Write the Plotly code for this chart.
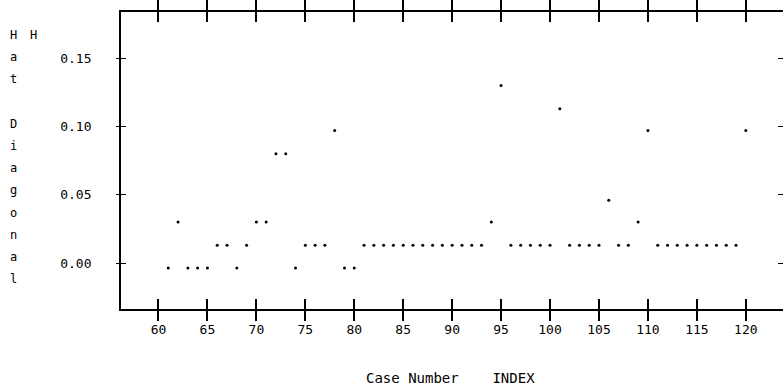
import plotly.graph_objects as go

# ---- data ----
case_number = list(range(61, 121))
hat_diagonal = [
    -0.0035, 0.030, -0.0035, -0.0035, -0.0035, 0.013, 0.013, -0.0035, 0.013, 0.030,  # 61-70
    0.030, 0.080, 0.080, -0.0035, 0.013, 0.013, 0.013, 0.097, -0.0035, -0.0035,       # 71-80
    0.013, 0.013, 0.013, 0.013, 0.013, 0.013, 0.013, 0.013, 0.013, 0.013,              # 81-90
    0.013, 0.013, 0.013, 0.030, 0.130, 0.013, 0.013, 0.013, 0.013, 0.013,              # 91-100
    0.113, 0.013, 0.013, 0.013, 0.013, 0.046, 0.013, 0.013, 0.030, 0.097,              # 101-110
    0.013, 0.013, 0.013, 0.013, 0.013, 0.013, 0.013, 0.013, 0.013, 0.097,              # 111-120
]
x_ticks = list(range(60, 121, 5))
y_ticks = [0.00, 0.05, 0.10, 0.15]
y_tick_labels = ["0.00", "0.05", "0.10", "0.15"]
y_title_chars = list("Hat Diagonal")
y_var_name = "H"
x_title = "Case Number    INDEX"

W, H = 783, 387
ML, MR, MT, MB = 121, 0, 12, 78
PW, PH = W - ML - MR, H - MT - MB

def px_to_paper(px, py):
    return (px - ML) / PW, (H - MB - py) / PH

FONT = "DejaVu Sans Mono"

fig = go.Figure()
fig.add_trace(go.Scatter(
    x=case_number, y=hat_diagonal, mode="markers",
    marker=dict(color="black", size=3, symbol="circle"),
    showlegend=False, hoverinfo="x+y",
))
# invisible trace to activate overlay axes
fig.add_trace(go.Scatter(x=[case_number[0]], y=[hat_diagonal[0]], xaxis="x2", yaxis="y2",
                         mode="markers", marker=dict(opacity=0), showlegend=False, hoverinfo="skip"))

xr = [56.17, 123.8]
yr = [-0.0336, 0.1838]

fig.update_layout(
    width=W, height=H,
    margin=dict(l=ML, r=MR, t=MT, b=MB, pad=0),
    paper_bgcolor="white", plot_bgcolor="white",
    font=dict(family=FONT, size=13, color="black"),
    xaxis=dict(range=xr, tickvals=x_ticks, ticks="outside", ticklen=10, tickwidth=1.5,
               tickcolor="black", showline=True, linewidth=1.8, linecolor="black",
               mirror="ticks", showgrid=False, zeroline=False,
               tickfont=dict(family=FONT, size=13), ticklabelstandoff=-3),
    xaxis2=dict(range=xr, overlaying="x", anchor="y", side="bottom", ticks="inside", ticklen=10,
                tickwidth=1.5, tickcolor="black", tickvals=x_ticks, showticklabels=False,
                showline=False, mirror="ticks", showgrid=False, zeroline=False),
    yaxis=dict(range=yr, tickvals=y_ticks, ticktext=y_tick_labels, ticks="outside", ticklen=3,
               tickwidth=1.2, tickcolor="black", showline=True, linewidth=1.8, linecolor="black",
               mirror=False, showgrid=False, zeroline=False,
               tickfont=dict(family=FONT, size=13), ticklabelstandoff=22),
    yaxis2=dict(range=yr, overlaying="y", anchor="x", side="left", ticks="inside", ticklen=5,
                tickwidth=1.2, tickcolor="black", tickvals=y_ticks, showticklabels=False,
                showline=False, mirror="ticks", showgrid=False, zeroline=False),
)

annotations = []
# vertical stacked y title
for i, ch in enumerate(y_title_chars):
    if ch == " ":
        continue
    ax, ay = px_to_paper(13, 35 + i * 22.2)
    annotations.append(dict(text=ch, x=ax, y=ay, xref="paper", yref="paper",
                            showarrow=False, xanchor="center", yanchor="middle",
                            font=dict(family=FONT, size=12, color="black")))
ax, ay = px_to_paper(33, 35)
annotations.append(dict(text=y_var_name, x=ax, y=ay, xref="paper", yref="paper",
                        showarrow=False, xanchor="center", yanchor="middle",
                        font=dict(family=FONT, size=12, color="black")))
ax, ay = px_to_paper(450, 378)
annotations.append(dict(text=x_title, x=ax, y=ay, xref="paper", yref="paper",
                        showarrow=False, xanchor="center", yanchor="middle",
                        font=dict(family=FONT, size=14, color="black")))
fig.update_layout(annotations=annotations)

fig.write_html(
    "out.html",
    config={"displayModeBar": False},
    post_script="document.body.style.margin='0';document.body.style.padding='0';",
)
